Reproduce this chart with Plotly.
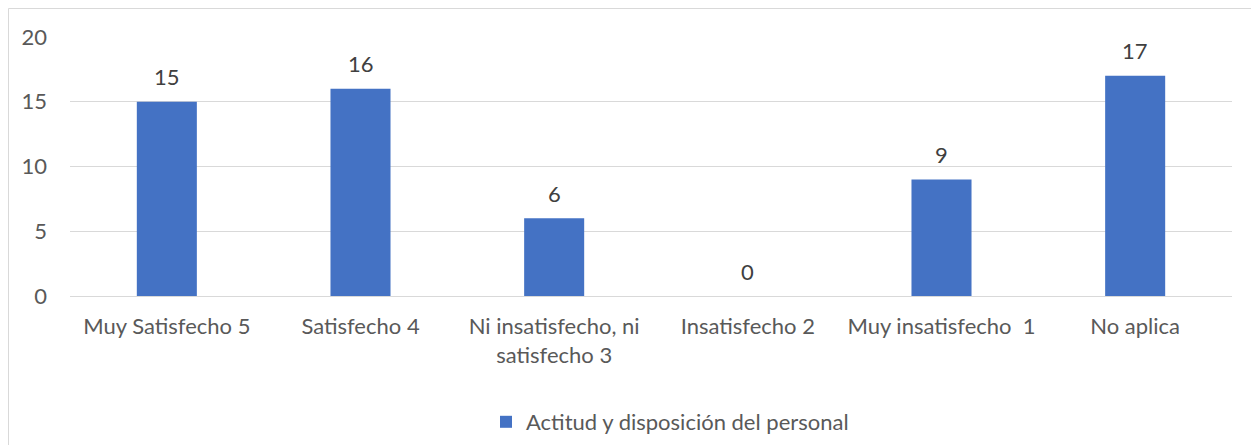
import plotly.graph_objects as go

categories = ["Muy Satisfecho 5", "Satisfecho 4", "Ni insatisfecho, ni<br>satisfecho 3",
              "Insatisfecho 2", "Muy insatisfecho  1", "No aplica"]
values = [15, 16, 6, 0, 9, 17]
series_name = "Actitud y disposición del personal"
y_ticks = [0, 5, 10, 15, 20]

FONT = "Lato, 'Open Sans', sans-serif"
GREY = "#595959"
FS = 22

# page body has an 8px default margin; size the figure to fit the window
OFF = 8
W, H = 1259 - OFF, 445 - OFF
L, R, T, B = 70 - OFF, 1259 - 1232, 37 - OFF, 445 - 296
PW, PH = W - L - R, H - T - B

fig = go.Figure()
fig.add_trace(go.Bar(
    x=categories, y=values, name=series_name,
    marker=dict(color="#4472C4", line=dict(width=0)),
    width=0.31, hoverinfo="x+y",
))

for c, v in zip(categories, values):
    fig.add_annotation(x=c, y=v, text=str(v), showarrow=False, yanchor="middle",
                       yshift=25, font=dict(size=FS, color="#404040", family=FONT))

fig.update_layout(
    width=W, height=H,
    margin=dict(l=L, r=R, t=T, b=B, autoexpand=False),
    paper_bgcolor="white", plot_bgcolor="white",
    font=dict(family=FONT, size=FS, color=GREY),
    showlegend=True,
    legend=dict(orientation="h", xref="paper", x=(486 - 70) / PW, xanchor="left",
                yref="container", y=(445 - 422) / H, yanchor="middle",
                font=dict(size=FS, color=GREY), itemwidth=30),
    xaxis=dict(showgrid=False, showline=False, ticks="", tickfont=dict(size=FS, color=GREY),
               ticklabelstandoff=15, automargin=False),
    yaxis=dict(range=[0, 20], tickvals=y_ticks, showgrid=True, gridcolor="#D9D9D9", gridwidth=1,
               zeroline=True, zerolinecolor="#D9D9D9", zerolinewidth=1, showline=False,
               tickfont=dict(size=FS, color=GREY), ticklabelstandoff=22, automargin=False),
    shapes=[dict(type="rect", xref="paper", yref="paper",
                 x0=(8.5 - 70) / PW, x1=(1257.5 - 70) / PW,
                 y0=(296 - 470) / PH, y1=(296 - 8.5) / PH,
                 line=dict(color="#D9D9D9", width=1), fillcolor="rgba(0,0,0,0)", layer="below")],
)

fig.write_html("out.html")
